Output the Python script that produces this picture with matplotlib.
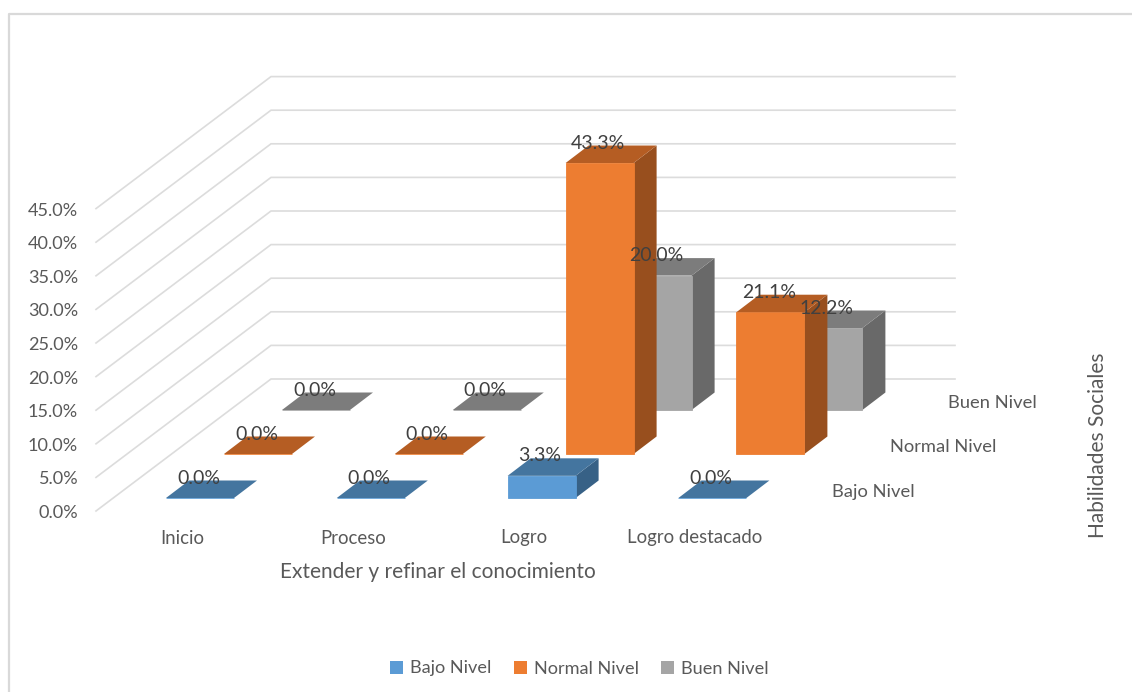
import matplotlib
matplotlib.use("Agg")
import matplotlib.pyplot as plt
from matplotlib.patches import Polygon, Patch

plt.rcParams['font.family'] = ['Lato', 'DejaVu Sans']

# ---- data ----
categories = ["Inicio", "Proceso", "Logro", "Logro destacado"]
series_names = ["Bajo Nivel", "Normal Nivel", "Buen Nivel"]
bajo = [0.0, 0.0, 3.3, 0.0]
normal = [0.0, 0.0, 43.3, 21.1]
bueno = [0.0, 0.0, 20.0, 12.2]
ticks = [0, 5, 10, 15, 20, 25, 30, 35, 40, 45]
x_title = "Extender y refinar el conocimiento"
z_title = "Habilidades Sociales"

# ---- style / projection (pixel geometry of the oblique view) ----
front_col = ["#5B9BD5", "#ED7D31", "#A5A5A5"]
top_col = ["#44759F", "#B55D23", "#7C7C7C"]
side_col = ["#376186", "#984F1E", "#696969"]
TXT = "#595959"
GRID = "#DCDCDC"

X0, Y0 = 166.0, 498.0
CAT_DX = 170.8
SER_DX, SER_DY = 58.0, 44.0
W = 68.0
DX, DY = 23.0, 17.5
PX_PER = 6.72
WALL_FRONT = (96.0, 511.0)
WALL_BACK = (271.0, 379.0)
WALL_RIGHT = 955.0


def base(c, s, v):
    return X0 + c * CAT_DX + s * SER_DX, Y0 - s * SER_DY - v * PX_PER


fig = plt.figure(figsize=(11.32, 6.92), dpi=100, facecolor="white")
ax = fig.add_axes([0, 0, 1, 1])
ax.set_xlim(0, 1132)
ax.set_ylim(692, 0)
ax.axis("off")

# chart frame
ax.plot([9, 9, 1132], [692, 14, 14], color="#D9D9D9", lw=1.6, zorder=1)

# walls' gridlines and value labels
for t in ticks:
    dy = t * PX_PER
    ax.plot([WALL_FRONT[0], WALL_BACK[0], WALL_RIGHT],
            [WALL_FRONT[1] - dy, WALL_BACK[1] - dy, WALL_BACK[1] - dy],
            color=GRID, lw=1.2, zorder=1, solid_joinstyle="miter")
    ax.text(78, WALL_FRONT[1] - dy + 2, f"{t:.1f}%", ha="right", va="center",
            fontsize=13.1, color=TXT)

# bars, back row first
all_series = [bajo, normal, bueno]
for s in [2, 1, 0]:
    for c, v in enumerate(all_series[s]):
        x, yb = base(c, s, 0)
        _, yt = base(c, s, v)
        ax.add_patch(Polygon([(x + W, yb), (x + W + DX, yb - DY), (x + W + DX, yt - DY), (x + W, yt)],
                             closed=True, fc=side_col[s], ec="none", zorder=3))
        ax.add_patch(Polygon([(x, yb), (x + W, yb), (x + W, yt), (x, yt)],
                             closed=True, fc=front_col[s], ec=front_col[s], lw=0.6, zorder=3))
        ax.add_patch(Polygon([(x, yt), (x + W, yt), (x + W + DX, yt - DY), (x + DX, yt - DY)],
                             closed=True, fc=top_col[s], ec="none", zorder=3))

# data labels above everything
for s in range(3):
    for c, v in enumerate(all_series[s]):
        x, yt = base(c, s, v)
        ax.text(x + W / 2 - 1.5, yt - 20, f"{v:.1f}%", ha="center", va="center",
                fontsize=14.0, color="#404040", zorder=6)

# category labels
for c, name in enumerate(categories):
    ax.text(X0 + c * CAT_DX + 16, 538, name, ha="center", va="center", fontsize=13.4, color=TXT)

# series (depth) labels
for s, name in enumerate(series_names):
    ax.text(832 + s * 58, 492 - s * 44.5, name, ha="left", va="center", fontsize=13.2, color=TXT)

ax.text(437.5, 572, x_title, ha="center", va="center", fontsize=15.0, color=TXT)
ax.text(1098, 445, z_title, ha="center", va="center", rotation=90, fontsize=15.0, color=TXT)

# legend
handles = [Patch(fc=front_col[i], ec="none", label=series_names[i]) for i in range(3)]
leg = ax.legend(handles=handles, loc="center", bbox_to_anchor=(579.5 / 1132, 1 - 668.5 / 692),
                ncol=3, frameon=False, fontsize=13.1, labelcolor=TXT,
                handlelength=0.72, handleheight=0.72, handletextpad=0.4, columnspacing=1.2)

fig.savefig("out.png", dpi=100, facecolor="white")
